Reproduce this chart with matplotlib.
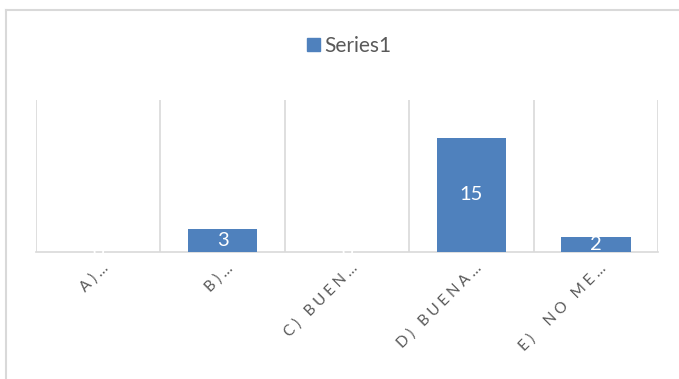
import matplotlib
matplotlib.use("Agg")
import matplotlib.pyplot as plt
from matplotlib.lines import Line2D
import matplotlib.transforms as mtransforms

categories = ["A)…", "B)…", "C) BUEN…", "D) BUENA…", "E)  NO ME…"]
values = [0, 3, 0, 15, 2]
series_name = "Series1"

plt.rcParams['font.family'] = ['Lato', 'DejaVu Sans']

W, H = 679, 379
fig = plt.figure(figsize=(W / 100, H / 100), dpi=100)
ax = fig.add_axes([36 / W, 1 - 252 / H, (658 - 36) / W, (252 - 100) / H])

bar_color = "#4f81bd"
grid_color = "#d9d9d9"
text_color = "#595959"

x = list(range(len(categories)))
bars = ax.bar(x, values, width=0.56, color=bar_color, label=series_name, zorder=3)
ax.bar_label(bars, labels=[str(v) for v in values], label_type='center',
             color='white', fontsize=14.5, zorder=7)

ax.set_xlim(-0.5, len(categories) - 0.5)
ax.set_ylim(0, 20)
ax.set_yticks([])
for b in [i - 0.5 for i in range(len(categories) + 1)]:
    ax.axvline(b, color=grid_color, lw=1.2, zorder=1)

for s in ['top', 'right', 'left']:
    ax.spines[s].set_visible(False)
ax.spines['bottom'].set_color(grid_color)
ax.spines['bottom'].set_linewidth(1.2)
ax.spines['bottom'].set_zorder(2)


def spaced(label):
    return "\u2009\u2009".join(list(label))


ax.set_xticks(x)
ax.set_xticklabels([spaced(c) for c in categories], rotation=45, ha='right', va='center',
                   rotation_mode='anchor', fontsize=11, color=text_color)
ax.tick_params(axis='x', length=0, pad=10)
offset = mtransforms.ScaledTranslation(8 / 100, 0, fig.dpi_scale_trans)
for lbl in ax.get_xticklabels():
    lbl.set_transform(lbl.get_transform() + offset)

fig.legend(handles=[plt.Rectangle((0, 0), 1, 1, color=bar_color)], labels=[series_name],
           loc='center', bbox_to_anchor=(349 / W, 1 - 46 / H), frameon=False,
           fontsize=15, labelcolor=text_color, handlelength=0.6, handleheight=0.6,
           handletextpad=0.2)

fig.add_artist(Line2D([6 / W, 1], [1 - 10 / H, 1 - 10 / H], transform=fig.transFigure,
                      color=grid_color, lw=1.5))
fig.add_artist(Line2D([6 / W, 6 / W], [0, 1 - 10 / H], transform=fig.transFigure,
                      color=grid_color, lw=1.5))

fig.savefig("out.png", dpi=100, facecolor='white')
